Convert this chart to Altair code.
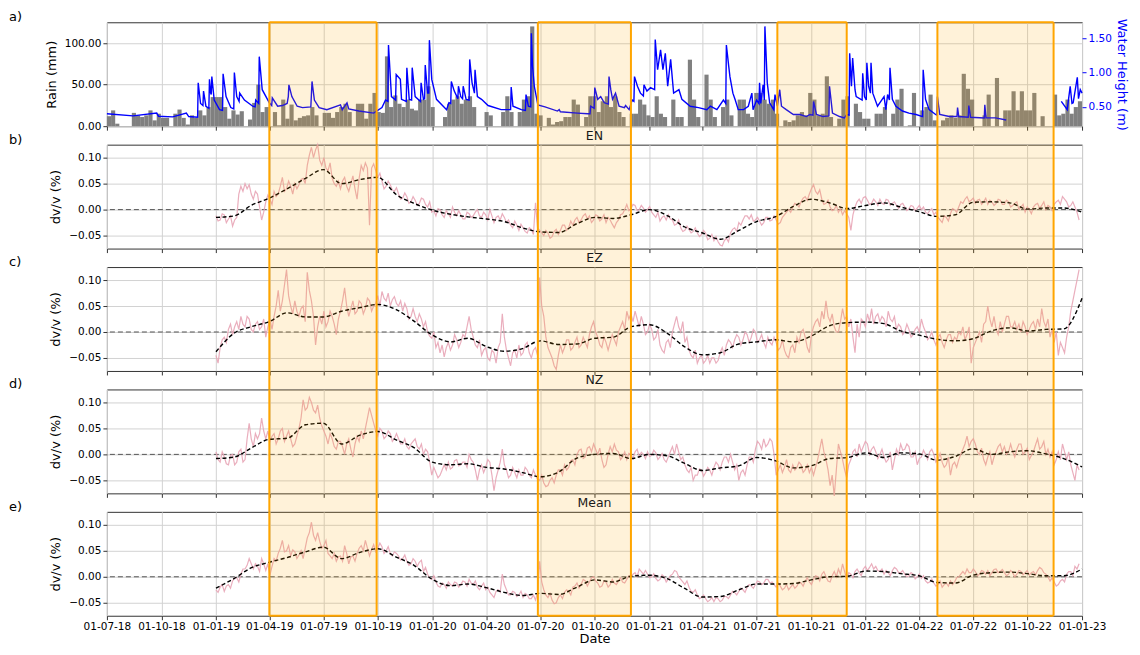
import altair as alt
import pandas as pd

# ------------------------------------------------------------------ data
# weekly rain (mm), weeks starting 2018-07-01
rain_mm = [
    12, 19, 3, 0, 0, 0, 16, 13, 11, 13, 19, 7, 15, 10, 10, 0, 15, 20, 10, 2,
    13, 10, 19, 13, 23, 35, 35, 35, 23, 9, 19, 14, 18, 0, 8, 28, 50, 17, 23,
    0, 17, 1, 32, 9, 26, 7, 10, 12, 13, 23, 13, 0, 16, 16, 10, 17, 23, 27, 17,
    0, 27, 27, 9, 27, 40,
    17, 16, 84, 23, 37,
    27, 23, 32, 21, 19, 32, 32, 48, 23, 0, 0, 11, 27, 32, 36, 27, 32, 36, 23, 0,
    0, 17, 13, 0, 0, 17, 36, 17, 0, 17, 32, 36, 120, 15, 13, 0, 10, 2, 5, 6,
    11, 11, 32, 26, 0, 11, 36, 36, 17, 30, 36, 23, 36, 17, 11, 0, 15, 15, 32, 26,
    13, 11, 36, 15, 11, 0, 32, 11, 11, 0, 80, 32, 11, 0, 62, 32, 11, 0, 23, 32,
    13, 0, 32, 32, 15, 11, 40, 40, 32, 27, 32,
    15, 0, 7, 5, 7, 13, 17, 13, 40, 32, 13, 15, 60, 11, 0, 9, 32, 36, 0, 27,
    17, 9, 9, 0, 15, 15, 23, 0, 15, 32, 45, 0, 1, 40, 0, 19, 23, 38, 7, 0,
    7, 10, 13, 10, 13, 63, 45, 32, 0, 0, 13, 38, 0, 58, 0, 19, 19, 42, 19, 42,
    19, 19, 40, 0, 12, 0, 0, 38, 13, 15, 32, 15, 23, 30,
]

# water height (m): day since 2018-07-01 and value
water_day = [
    0, 44, 84, 87, 111, 134, 138, 153, 154, 158, 162, 163, 167, 172, 173, 175, 176, 177, 181, 190,
    195, 196, 201, 209, 214, 215, 219, 223, 224, 232, 246, 250, 251, 256, 257, 262, 274, 278, 279, 288,
    296, 304, 306, 307, 312, 321, 330, 344, 346, 350, 358, 371, 394, 397, 405, 408, 425, 450, 464, 470,
    474, 475, 480, 487, 488, 495, 497, 505, 506, 510, 514, 515, 520, 529, 530, 534, 536, 537, 541, 543,
    544, 548, 556, 573, 577, 580, 581, 586, 592, 593, 597, 600, 601, 606, 611, 612, 616, 620, 621, 625,
    632, 643, 665, 681, 682, 685, 699, 706, 707, 711, 715, 716, 718, 721, 727, 739, 760, 763, 765, 794,
    811, 815, 816, 822, 823, 828, 833, 839, 846, 847, 850, 853, 858, 864, 873, 875, 881, 886, 889, 890,
    895, 900, 905, 906, 911, 917, 924, 925, 929, 934, 938, 942, 946, 951, 956, 965, 970, 984, 998, 1012,
    1018, 1029, 1040, 1044, 1045, 1049, 1051, 1056, 1060, 1065, 1074, 1082, 1088, 1090, 1096, 1100, 1101, 1103, 1107, 1109,
    1110, 1114, 1118, 1125, 1127, 1131, 1135, 1138, 1146, 1158, 1169, 1180, 1186, 1191, 1192, 1197, 1208, 1218, 1219, 1224,
    1236, 1244, 1248, 1252, 1253, 1256, 1258, 1262, 1264, 1274, 1275, 1278, 1281, 1282, 1285, 1288, 1289, 1292, 1300, 1311,
    1314, 1317, 1320, 1321, 1325, 1331, 1342, 1353, 1365, 1376, 1377, 1381, 1387, 1398, 1400, 1401, 1405, 1421, 1434, 1435,
    1437, 1453, 1454, 1457, 1480, 1481, 1483, 1499, 1517,
    1610, 1620, 1625, 1628, 1630, 1637, 1639, 1642, 1645,
]
water_m = [
    0.40, 0.37, 0.41, 0.365, 0.355, 0.41, 0.36, 0.35, 0.85, 0.55, 0.52, 0.73, 0.51, 0.48, 0.90, 0.70, 0.68, 0.94, 0.60, 0.46,
    0.45, 0.98, 0.65, 0.49, 0.47, 1.00, 0.65, 0.58, 0.70, 0.60, 0.51, 0.50, 0.60, 0.55, 1.23, 0.75, 0.56, 0.52, 0.63, 0.51,
    0.52, 0.55, 0.65, 0.82, 0.65, 0.51, 0.49, 0.50, 0.87, 0.60, 0.49, 0.46, 0.53, 0.46, 0.56, 0.47, 0.44, 0.41, 0.49, 0.60,
    0.58, 1.40, 0.65, 0.60, 0.97, 0.90, 0.61, 0.58, 1.07, 0.61, 0.60, 1.07, 0.65, 0.58, 0.85, 0.61, 0.62, 1.11, 0.70, 0.70,
    1.47, 0.90, 0.61, 0.46, 0.56, 0.55, 0.87, 0.73, 0.62, 0.80, 0.65, 0.62, 0.80, 0.61, 0.60, 1.19, 0.85, 0.70, 1.04, 0.65,
    0.61, 0.52, 0.46, 0.46, 0.79, 0.51, 0.46, 0.45, 0.68, 0.51, 0.50, 1.57, 1.09, 0.80, 0.53, 0.50, 0.44, 0.46, 0.43, 0.41,
    0.40, 0.40, 0.51, 0.48, 0.78, 0.61, 0.65, 0.56, 0.54, 0.94, 0.75, 0.61, 0.70, 0.51, 0.49, 0.52, 0.46, 0.60, 0.58, 0.94,
    0.80, 0.70, 0.66, 0.82, 0.73, 0.78, 0.75, 1.48, 1.04, 1.33, 1.04, 1.28, 0.80, 1.19, 0.70, 0.75, 0.61, 0.51, 0.49, 0.46,
    0.51, 0.46, 0.60, 0.55, 1.40, 1.09, 0.94, 0.70, 0.60, 0.46, 0.46, 0.51, 0.70, 0.46, 0.60, 0.55, 0.85, 0.55, 0.82, 0.60,
    1.67, 0.85, 0.56, 0.46, 0.68, 0.51, 0.75, 0.51, 0.46, 0.39, 0.39, 0.36, 0.39, 0.38, 0.58, 0.39, 0.36, 0.37, 0.80, 0.41,
    0.36, 0.34, 0.39, 0.38, 1.28, 0.80, 1.21, 0.75, 0.65, 0.60, 0.99, 0.65, 0.60, 1.14, 0.80, 0.70, 1.14, 0.70, 0.51, 0.65,
    0.46, 0.68, 0.60, 1.07, 0.61, 0.51, 0.44, 0.41, 0.39, 0.36, 1.04, 0.61, 0.46, 0.39, 0.38, 0.65, 0.39, 0.36, 0.36, 0.49,
    0.36, 0.35, 0.52, 0.35, 0.34, 0.53, 0.34, 0.34, 0.31,
    0.58, 0.46, 0.80, 0.55, 0.56, 0.93, 0.62, 0.75, 0.70,
]
water_gap_after_day = 1517

# dv/v (%) read at each week start from 2019-01-01 ("raw") and half a week later ("mid")
en_raw = [
    -0.012, -0.020, -0.010, -0.018, -0.032, -0.015, 0.045, 0.050, 0.048, 0.020,
    0.030, -0.020, 0.015, 0.020, 0.035, 0.030, 0.062, 0.040, 0.045, 0.050,
    0.048, 0.060, 0.085, 0.120, 0.115, 0.095, 0.100, 0.075, 0.060, 0.045,
    0.040, 0.062, 0.035, 0.065, 0.020, 0.085, 0.090, -0.030, 0.088, 0.062,
    0.055, 0.045, 0.048, 0.035, 0.030, 0.022, 0.025, 0.015, 0.018, 0.012,
    0.020, 0.005, -0.005, -0.012, 0.000, -0.015, -0.008, 0.005, -0.012, -0.010,
    -0.018, -0.008, -0.012, 0.000, -0.015, -0.010, 0.000, -0.025, -0.012, -0.008,
    -0.025, -0.030, -0.022, -0.040, -0.035, -0.045, -0.038, 0.013, -0.040, -0.050,
    -0.045, -0.052, -0.038, -0.040, -0.030, -0.035, -0.030, -0.015, -0.020, -0.008,
    -0.012, -0.020, -0.012, -0.018, -0.025, -0.020, -0.035, -0.020, -0.008, 0.010,
    0.002, 0.008, 0.000, 0.003, 0.000, -0.005, -0.015, -0.022, -0.012, -0.010,
    -0.020, -0.028, -0.035, -0.040, -0.038, -0.042, -0.045, -0.048, -0.045, -0.055,
    -0.060, -0.062, -0.070, -0.055, -0.045, -0.035, -0.025, -0.020, -0.012, -0.010,
    -0.020, -0.022, -0.025, -0.015, -0.020, -0.020, -0.025, -0.010, 0.000, 0.005,
    0.010, 0.015, 0.025, 0.030, 0.048, 0.030, 0.020, 0.012, 0.005, 0.000,
    -0.005, -0.010, -0.008, -0.040, 0.005, 0.020, 0.023, 0.018, 0.012, 0.015,
    0.020, 0.010, 0.018, 0.012, 0.008, 0.010, 0.005, 0.002, 0.006, 0.003,
    0.000, -0.005, -0.002, -0.010, -0.015, -0.025, -0.015, -0.008, 0.000, 0.005,
    0.012, 0.025, 0.018, 0.012, 0.020, 0.015, 0.010, 0.015, 0.012, 0.018,
    0.010, 0.015, 0.008, 0.015, 0.005, -0.005, 0.000, 0.005, 0.012, 0.008,
    0.000, 0.005, 0.010, 0.018, 0.025, 0.015, 0.008, 0.005, -0.020,
]
en_mid = [
    -0.022, -0.008, -0.025, -0.012, -0.020, 0.030, 0.035, 0.040, 0.030, 0.035,
    0.005, -0.005, 0.028, 0.010, 0.025, 0.045, 0.035, 0.055, 0.030, 0.040,
    0.058, 0.050, 0.105, 0.100, 0.125, 0.085, 0.080, 0.090, 0.050, 0.055,
    0.055, 0.045, 0.050, 0.040, 0.060, 0.075, 0.080, 0.080, 0.075, 0.070,
    0.040, 0.055, 0.038, 0.042, 0.020, 0.032, 0.012, 0.025, 0.008, 0.022,
    0.010, 0.015, -0.002, 0.002, -0.010, -0.002, -0.015, -0.005, -0.002, -0.018,
    -0.005, -0.015, -0.005, -0.012, -0.005, -0.020, -0.012, -0.015, -0.020, -0.015,
    -0.020, -0.035, -0.030, -0.028, -0.042, -0.035, -0.048, -0.035, -0.045, -0.040,
    -0.055, -0.042, -0.048, -0.030, -0.040, -0.022, -0.020, -0.025, -0.012, -0.018,
    -0.025, -0.010, -0.022, -0.010, -0.015, -0.028, -0.025, -0.010, 0.000, -0.002,
    0.010, -0.002, 0.008, -0.005, 0.006, -0.010, -0.005, -0.015, -0.020, -0.018,
    -0.030, -0.020, -0.042, -0.032, -0.045, -0.035, -0.052, -0.040, -0.058, -0.048,
    -0.052, -0.068, -0.060, -0.062, -0.038, -0.042, -0.030, -0.012, -0.018, -0.022,
    -0.015, -0.030, -0.015, -0.022, -0.012, -0.028, -0.015, -0.005, -0.005, 0.012,
    0.005, 0.022, 0.018, 0.040, 0.035, 0.038, 0.010, 0.018, -0.002, 0.008,
    0.002, -0.002, -0.015, -0.010, 0.015, 0.012, 0.025, 0.010, 0.020, 0.008,
    0.012, 0.020, 0.008, 0.015, 0.002, 0.012, -0.002, 0.008, -0.002, 0.008,
    0.005, -0.008, 0.002, -0.005, -0.020, -0.012, -0.022, 0.002, -0.005, 0.015,
    0.020, 0.015, 0.022, 0.018, 0.010, 0.022, 0.018, 0.008, 0.020, 0.010,
    0.018, 0.005, 0.012, 0.000, 0.010, 0.005, -0.008, 0.010, 0.002, 0.015,
    0.008, -0.002, 0.015, 0.010, 0.020, 0.005, 0.015, -0.005,
]
ez_raw = [
    -0.045, -0.030, -0.010, 0.005, -0.005, 0.020, 0.030, 0.010, 0.025, 0.000,
    0.020, 0.010, -0.010, 0.025, 0.030, 0.080, 0.060, 0.120, 0.050, 0.060,
    0.030, 0.050, 0.115, 0.060, -0.025, 0.030, 0.040, 0.020, 0.030, -0.005,
    0.040, 0.085, 0.030, 0.060, 0.040, 0.055, 0.045, 0.060, 0.050, 0.070,
    0.078, 0.060, 0.050, 0.068, 0.050, 0.040, 0.045, 0.030, 0.030, 0.035,
    0.010, 0.000, -0.012, -0.030, -0.040, -0.048, -0.020, -0.025, -0.015, -0.020,
    -0.010, 0.030, -0.010, -0.030, -0.045, -0.030, -0.055, -0.040, -0.030, 0.035,
    -0.035, -0.065, -0.035, -0.025, -0.040, -0.020, -0.050, -0.030, 0.105, 0.030,
    -0.030, -0.050, -0.072, -0.025, -0.030, -0.015, -0.030, -0.010, -0.025, -0.020,
    -0.005, 0.020, -0.010, -0.030, -0.020, -0.020, -0.015, 0.000, 0.020, 0.040,
    0.035, 0.040, 0.010, 0.015, 0.000, 0.005, -0.010, -0.025, -0.040, -0.015,
    0.000, 0.030, 0.000, -0.020, -0.035, -0.050, -0.060, -0.045, -0.055, -0.060,
    -0.050, -0.055, -0.030, -0.025, -0.020, -0.015, -0.010, -0.015, -0.005, -0.010,
    0.000, -0.015, -0.020, -0.010, -0.025, -0.020, -0.030, -0.035, -0.050, -0.025,
    -0.010, 0.000, -0.010, -0.040, 0.010, 0.025, 0.040, 0.060, 0.020, 0.010,
    0.000, 0.045, 0.030, 0.025, -0.040, -0.010, 0.020, 0.035, 0.045, 0.030,
    0.020, 0.025, 0.040, 0.020, 0.005, 0.010, 0.000, 0.005, -0.005, 0.010,
    0.025, 0.000, -0.010, -0.015, -0.010, -0.020, -0.015, -0.005, -0.010, 0.000,
    0.010, -0.005, -0.060, -0.020, 0.000, 0.015, 0.050, 0.010, 0.005, 0.020,
    0.015, 0.030, 0.010, 0.005, 0.000, 0.010, 0.005, 0.020, 0.025, 0.045,
    0.010, -0.010, -0.020, -0.045, -0.030, -0.010, 0.040, 0.080, 0.120,
]
ez_mid = [
    -0.060, -0.015, -0.020, 0.015, 0.010, 0.005, 0.015, 0.030, 0.005, 0.015,
    0.005, 0.025, 0.010, 0.005, 0.050, 0.040, 0.090, 0.070, 0.035, 0.040,
    0.045, 0.020, 0.080, 0.030, 0.010, 0.015, 0.010, 0.040, 0.015, 0.025,
    0.060, 0.050, 0.045, 0.035, 0.060, 0.035, 0.065, 0.040, 0.055, 0.050,
    0.065, 0.075, 0.062, 0.055, 0.060, 0.055, 0.025, 0.045, 0.020, 0.025,
    0.020, -0.008, 0.000, -0.020, -0.025, -0.030, -0.035, -0.005, -0.030, -0.005,
    0.010, 0.005, -0.025, -0.015, -0.035, -0.050, -0.035, -0.060, -0.020, -0.010,
    -0.050, -0.040, -0.050, -0.045, -0.025, -0.040, -0.035, -0.045, 0.050, -0.010,
    -0.040, -0.065, -0.045, -0.040, -0.015, -0.035, -0.020, -0.030, -0.010, -0.030,
    0.010, 0.000, -0.025, -0.010, -0.035, -0.005, -0.025, 0.010, 0.005, 0.025,
    0.020, 0.025, 0.030, -0.005, 0.015, -0.015, 0.005, -0.035, -0.020, -0.030,
    0.015, 0.010, 0.020, -0.010, -0.045, -0.035, -0.050, -0.060, -0.045, -0.050,
    -0.060, -0.040, -0.045, -0.015, -0.030, -0.005, -0.025, 0.000, -0.020, 0.005,
    -0.020, -0.005, -0.030, -0.020, -0.010, -0.035, -0.015, -0.045, -0.030, -0.040,
    -0.020, 0.005, -0.030, -0.005, 0.020, 0.010, 0.025, 0.030, 0.035, 0.000,
    0.020, 0.025, 0.010, -0.010, 0.015, 0.025, 0.010, 0.020, 0.015, 0.035,
    0.030, 0.010, 0.025, 0.030, 0.015, -0.005, 0.015, -0.010, 0.005, 0.000,
    0.010, -0.015, 0.000, -0.025, -0.005, -0.030, -0.005, -0.020, -0.015, -0.005,
    -0.015, 0.010, -0.030, -0.010, -0.020, 0.020, 0.025, 0.030, -0.005, 0.000,
    0.030, 0.010, 0.020, 0.015, 0.020, -0.005, 0.015, 0.005, 0.010, 0.020,
    0.025, 0.005, 0.000, -0.020, -0.040, 0.010, 0.060, 0.100,
]
nz_raw = [
    0.005, -0.015, -0.005, -0.020, 0.000, -0.015, 0.010, -0.010, 0.060, 0.015,
    0.030, 0.070, 0.030, 0.025, 0.040, 0.030, 0.050, 0.035, 0.030, 0.020,
    0.050, 0.105, 0.090, 0.100, 0.080, 0.070, 0.045, 0.020, 0.030, 0.010,
    0.025, 0.000, 0.030, -0.005, 0.035, 0.045, 0.050, 0.090, 0.060, 0.035,
    0.045, 0.035, 0.040, 0.030, 0.030, 0.020, 0.015, 0.020, 0.030, 0.010,
    0.000, 0.005, -0.040, -0.035, -0.040, -0.020, -0.015, -0.025, -0.010, -0.020,
    -0.015, 0.000, -0.015, -0.050, -0.020, -0.025, -0.015, -0.070, -0.030, 0.010,
    -0.030, -0.040, -0.035, -0.030, -0.040, -0.030, -0.045, -0.040, -0.050, -0.055,
    -0.060, -0.045, -0.040, -0.030, -0.020, -0.025, -0.010, 0.000, 0.010, -0.005,
    0.015, 0.020, 0.000, -0.010, -0.020, 0.015, 0.020, 0.005, -0.005, -0.010,
    0.000, 0.005, -0.005, 0.000, 0.005, -0.002, 0.003, -0.005, -0.010, -0.005,
    0.015, 0.020, -0.010, -0.020, -0.035, -0.050, -0.040, -0.030, -0.035, -0.030,
    -0.025, -0.020, -0.015, -0.005, 0.000, -0.030, -0.050, -0.030, -0.020, -0.005,
    0.010, 0.020, 0.030, 0.020, 0.025, -0.040, -0.020, -0.025, -0.030, -0.020,
    -0.025, -0.020, -0.030, -0.035, -0.040, -0.010, 0.030, -0.010, -0.060, -0.080,
    0.020, -0.010, -0.045, -0.010, 0.010, 0.020, 0.015, 0.020, 0.010, 0.005,
    0.000, -0.005, -0.010, -0.030, 0.010, 0.020, 0.010, 0.015, -0.005, -0.020,
    -0.005, 0.000, 0.005, 0.000, -0.010, -0.015, -0.020, -0.040, -0.015, -0.010,
    0.010, 0.035, 0.025, 0.020, 0.000, -0.010, -0.005, -0.020, 0.005, 0.020,
    0.015, 0.005, 0.005, 0.010, 0.020, 0.005, -0.010, 0.005, 0.030, 0.015,
    0.000, -0.005, -0.020, 0.005, 0.020, -0.010, -0.020, -0.050, -0.030,
]
nz_mid = [
    -0.010, 0.005, -0.018, -0.002, -0.020, 0.005, -0.015, 0.030, 0.030, 0.040,
    0.040, 0.045, 0.045, 0.035, 0.020, 0.045, 0.025, 0.045, 0.015, 0.035,
    0.070, 0.085, 0.110, 0.085, 0.095, 0.055, 0.035, 0.040, 0.015, 0.025,
    0.015, 0.020, 0.010, 0.020, 0.025, 0.030, 0.070, 0.075, 0.045, 0.050,
    0.030, 0.045, 0.025, 0.040, 0.020, 0.030, 0.010, 0.025, 0.015, 0.020,
    0.010, -0.015, -0.025, -0.045, -0.030, -0.030, -0.028, -0.012, -0.022, -0.015,
    -0.025, -0.010, -0.030, -0.030, -0.035, -0.010, -0.040, -0.045, -0.015, -0.020,
    -0.045, -0.025, -0.045, -0.040, -0.025, -0.040, -0.030, -0.048, -0.040, -0.062,
    -0.050, -0.055, -0.030, -0.040, -0.030, -0.012, -0.020, 0.008, -0.008, 0.012,
    0.005, 0.010, 0.012, -0.025, 0.000, 0.005, 0.008, -0.010, 0.005, 0.002,
    -0.008, 0.010, 0.004, -0.008, -0.004, 0.008, -0.010, 0.002, -0.015, 0.005,
    0.000, 0.005, -0.005, -0.030, -0.025, -0.040, -0.028, -0.042, -0.025, -0.040,
    -0.015, -0.030, -0.005, -0.015, -0.015, -0.020, -0.035, -0.040, -0.005, -0.015,
    0.025, 0.010, 0.015, 0.030, 0.000, -0.030, -0.035, -0.010, -0.035, -0.030,
    -0.015, -0.035, -0.020, -0.025, -0.025, 0.010, 0.005, -0.030, -0.040, -0.030,
    0.005, -0.030, -0.020, 0.005, -0.005, 0.005, 0.025, 0.000, 0.015, -0.008,
    0.010, -0.015, 0.005, -0.010, 0.000, 0.008, 0.020, -0.005, 0.005, -0.008,
    0.008, -0.010, 0.010, -0.015, 0.002, -0.025, -0.005, -0.020, -0.025, 0.000,
    0.020, 0.015, 0.030, 0.005, 0.012, -0.020, 0.005, -0.005, 0.015, 0.005,
    0.000, 0.020, -0.005, 0.020, 0.000, 0.012, -0.002, 0.018, 0.010, 0.025,
    0.010, 0.005, -0.010, -0.010, 0.005, 0.005, -0.035, -0.020,
]
mean_raw = [
    -0.025, -0.020, -0.028, -0.015, -0.008, -0.002, 0.005, 0.015, 0.035, 0.015,
    0.020, 0.035, 0.012, 0.003, 0.035, 0.045, 0.070, 0.050, 0.040, 0.048,
    0.042, 0.035, 0.075, 0.105, 0.070, 0.068, 0.060, 0.045, 0.035, 0.030,
    0.040, 0.060, 0.025, 0.040, 0.045, 0.060, 0.070, 0.040, 0.062, 0.055,
    0.058, 0.050, 0.045, 0.048, 0.040, 0.035, 0.030, 0.025, 0.030, 0.028,
    0.010, 0.005, -0.005, -0.010, -0.020, -0.015, -0.010, -0.018, -0.012, -0.015,
    -0.010, -0.005, -0.015, -0.020, -0.018, -0.025, -0.030, -0.040, -0.025, 0.005,
    -0.025, -0.035, -0.030, -0.035, -0.040, -0.035, -0.042, -0.045, 0.030, -0.025,
    -0.040, -0.045, -0.050, -0.035, -0.030, -0.028, -0.020, -0.012, -0.015, -0.008,
    -0.010, 0.000, -0.012, -0.018, -0.010, -0.015, -0.012, -0.008, -0.010, -0.005,
    0.000, 0.008, 0.015, 0.005, 0.005, 0.000, -0.003, -0.005, 0.000, -0.005,
    0.005, 0.010, -0.005, -0.015, -0.020, -0.030, -0.035, -0.040, -0.042, -0.045,
    -0.048, -0.042, -0.045, -0.038, -0.035, -0.030, -0.028, -0.025, -0.020, -0.018,
    -0.015, -0.010, -0.012, -0.005, -0.010, -0.020, -0.018, -0.022, -0.025, -0.015,
    -0.018, -0.012, -0.008, -0.010, -0.005, 0.000, 0.005, 0.000, -0.010, 0.010,
    0.015, 0.025, -0.005, 0.005, 0.010, 0.008, 0.015, 0.012, 0.025, 0.020,
    0.010, 0.005, 0.008, 0.012, 0.015, 0.008, 0.005, 0.002, 0.005, 0.000,
    -0.003, -0.008, -0.010, -0.012, -0.015, -0.020, -0.012, -0.008, -0.010, 0.000,
    0.010, 0.015, 0.008, 0.010, 0.005, 0.010, 0.012, 0.008, 0.015, 0.010,
    0.008, 0.005, 0.008, 0.005, 0.010, 0.008, 0.003, 0.010, 0.012, 0.015,
    0.005, -0.008, -0.010, -0.015, -0.005, 0.005, 0.010, 0.020, 0.025,
]
mean_mid = [
    -0.030, -0.015, -0.018, -0.022, -0.002, -0.010, 0.015, 0.022, 0.025, 0.025,
    0.010, 0.025, 0.025, 0.020, 0.030, 0.055, 0.048, 0.060, 0.052, 0.035,
    0.050, 0.055, 0.085, 0.080, 0.085, 0.055, 0.070, 0.040, 0.045, 0.038,
    0.030, 0.045, 0.038, 0.030, 0.055, 0.050, 0.055, 0.052, 0.048, 0.065,
    0.045, 0.058, 0.040, 0.045, 0.032, 0.042, 0.022, 0.035, 0.020, 0.032,
    0.018, -0.002, 0.002, -0.018, -0.012, -0.022, -0.015, -0.010, -0.020, -0.008,
    -0.018, -0.012, -0.008, -0.025, -0.012, -0.020, -0.035, -0.028, -0.030, -0.015,
    -0.035, -0.028, -0.038, -0.028, -0.032, -0.042, -0.035, -0.030, -0.010, -0.035,
    -0.032, -0.052, -0.040, -0.042, -0.025, -0.035, -0.018, -0.022, -0.005, -0.018,
    -0.002, -0.008, -0.020, -0.008, -0.020, -0.005, -0.015, -0.002, -0.012, 0.002,
    0.005, 0.000, 0.010, 0.012, -0.002, 0.006, -0.008, 0.004, -0.010, 0.002,
    0.012, 0.000, -0.010, -0.008, -0.028, -0.025, -0.042, -0.035, -0.048, -0.040,
    -0.040, -0.048, -0.038, -0.042, -0.028, -0.035, -0.022, -0.030, -0.015, -0.022,
    -0.008, -0.015, -0.005, -0.012, -0.015, -0.012, -0.025, -0.015, -0.020, -0.022,
    -0.010, -0.018, -0.002, -0.015, 0.002, -0.008, 0.010, -0.008, 0.002, 0.000,
    0.005, 0.010, 0.008, -0.002, 0.015, 0.002, 0.020, 0.018, 0.015, 0.012,
    0.015, 0.012, 0.002, 0.018, 0.008, 0.012, 0.000, 0.008, -0.004, 0.005,
    0.002, -0.012, -0.004, -0.018, -0.008, -0.015, -0.018, -0.015, -0.002, 0.005,
    0.005, 0.008, 0.015, 0.002, 0.012, 0.005, 0.002, 0.014, 0.008, 0.014,
    0.002, 0.012, 0.000, 0.012, 0.004, 0.012, 0.008, 0.004, 0.018, 0.008,
    0.000, -0.002, -0.018, -0.008, -0.010, 0.010, 0.002, 0.015,
]

# smoothed dv/v, monthly from 2019-01-01 to 2023-01-01
en_smooth = [
    -0.015, -0.012, 0.008, 0.022, 0.040, 0.060, 0.077, 0.050, 0.058, 0.062, 0.029, 0.012,
    -0.001, -0.009, -0.014, -0.018, -0.023, -0.035, -0.043, -0.044, -0.027, -0.015, -0.017, -0.010,
    0.000, -0.012, -0.033, -0.045, -0.057, -0.040, -0.023, -0.014, 0.006, 0.020, 0.013, 0.002,
    0.008, 0.013, 0.005, -0.004, -0.013, -0.010, 0.014, 0.015, 0.013, 0.001, 0.003, 0.003, -0.005,
]
ez_smooth = [
    -0.038, -0.002, 0.010, 0.020, 0.037, 0.029, 0.029, 0.040, 0.047, 0.053, 0.043, 0.021,
    -0.006, -0.019, -0.012, -0.028, -0.037, -0.032, -0.017, -0.024, -0.023, -0.012, -0.010, 0.010,
    0.014, -0.003, -0.028, -0.044, -0.040, -0.023, -0.019, -0.015, -0.019, -0.008, 0.012, 0.018,
    0.019, 0.016, 0.002, -0.006, -0.014, -0.017, -0.013, 0.002, 0.008, 0.002, 0.005, 0.006, 0.065,
]
nz_smooth = [
    -0.008, -0.005, 0.012, 0.029, 0.031, 0.057, 0.060, 0.020, 0.037, 0.044, 0.028, 0.013,
    -0.015, -0.020, -0.018, -0.025, -0.028, -0.035, -0.043, -0.034, -0.007, 0.000, 0.002, -0.008,
    0.000, -0.003, -0.017, -0.031, -0.026, -0.022, -0.006, -0.012, -0.026, -0.022, -0.008, -0.006,
    0.003, -0.006, 0.003, 0.001, -0.011, -0.004, 0.011, 0.000, 0.005, 0.007, 0.001, -0.008, -0.024,
]
mean_smooth = [
    -0.022, -0.003, 0.017, 0.028, 0.037, 0.048, 0.057, 0.035, 0.047, 0.054, 0.038, 0.022,
    -0.005, -0.017, -0.014, -0.021, -0.030, -0.036, -0.032, -0.034, -0.020, -0.006, -0.010, 0.001,
    0.003, -0.004, -0.022, -0.039, -0.038, -0.025, -0.014, -0.014, -0.013, -0.006, 0.000, 0.001,
    0.011, 0.010, 0.006, 0.002, -0.011, -0.012, 0.003, 0.008, 0.009, 0.006, 0.002, 0.002, 0.015,
]

# highlighted periods
box_start = ["2019-04-01", "2020-06-27", "2021-08-05", "2022-05-02"]
box_end = ["2019-09-29", "2020-12-01", "2021-11-30", "2022-11-14"]

x_ticks = [(2018, 7), (2018, 10)] + [(y, m) for y in range(2019, 2023) for m in (1, 4, 7, 10)] + [(2023, 1)]

# ------------------------------------------------------------------ tables
T0 = pd.Timestamp("2018-07-01")
fmt = "%Y-%m-%d"
tfmt = "%Y-%m-%dT%H:%M:%SZ"
rain_df = pd.DataFrame({
    "date": [(T0 + pd.Timedelta(days=7 * i)).strftime(fmt) for i in range(len(rain_mm))],
    "end": [(T0 + pd.Timedelta(days=7 * (i + 1))).strftime(fmt) for i in range(len(rain_mm))],
    "rain": rain_mm,
})
water_df = pd.DataFrame({
    "date": [(T0 + pd.Timedelta(days=d)).strftime(fmt) for d in water_day],
    "height": water_m,
    "seg": [0 if d <= water_gap_after_day else 1 for d in water_day],
})
box_df = pd.DataFrame({"start": box_start, "end": box_end})
edge_df = pd.DataFrame({"date": box_start + box_end})
one_df = pd.DataFrame({"k": [0]})


def noisy(raw, mid):
    t1 = pd.Timestamp("2019-01-01")
    rows = []
    for k, v in enumerate(raw):
        rows.append(((t1 + pd.Timedelta(days=7 * k)).strftime(tfmt), v))
        if k < len(mid):
            rows.append(((t1 + pd.Timedelta(hours=168 * k + 84)).strftime(tfmt), mid[k]))
    return pd.DataFrame(rows, columns=["date", "value"])


def monthly(vals):
    return pd.DataFrame({
        "date": pd.date_range("2019-01-01", periods=len(vals), freq="MS").strftime(fmt),
        "value": vals,
    })


# ------------------------------------------------------------------ styling
W, H, GAP = 976, 104, 18.5
FONT = "DejaVu Sans"
GRID = "#d2d2d2"
ORANGE = "#FFA500"

XSCALE = alt.Scale(
    type="utc",
    domain=[alt.DateTime(year=2018, month=7, date=1, utc=True),
            alt.DateTime(year=2023, month=1, date=1, utc=True)],
    nice=False,
)
TICKS = [alt.DateTime(year=y, month=m, date=1, utc=True) for y, m in x_ticks]


def x_axis(labels):
    return alt.Axis(
        values=TICKS, labelExpr="utcFormat(datum.value, '%d-%m-%y')", labels=labels,
        labelOverlap=False, labelFlush=False, labelAngle=0, labelFontSize=10.5,
        labelColor="black", labelPadding=2, ticks=True, tickSize=4, tickColor="#333",
        grid=True, gridColor=GRID, domain=False,
        titleFontSize=13, titleFontWeight="normal", titleColor="black", titlePadding=0,
    )


def xenc(field, last):
    if last:
        return alt.X(f"{field}:T", scale=XSCALE, axis=x_axis(True), title="Date")
    return alt.X(f"{field}:T", scale=XSCALE, axis=x_axis(False), title=None)


def box_layers(ext_top, ext_bottom, last):
    y2 = H + (0 if last else GAP)
    fill = alt.Chart(box_df).mark_rect(color=ORANGE, opacity=0.15).encode(
        x=xenc("start", last), x2="end:T", y=alt.value(0), y2=alt.value(y2))
    edges = alt.Chart(edge_df).mark_rule(color=ORANGE, strokeWidth=2).encode(
        x=xenc("date", last), y=alt.value(0), y2=alt.value(y2))
    layers = [fill, edges]
    if ext_top:
        layers.append(alt.Chart(box_df).mark_rule(color=ORANGE, strokeWidth=2).encode(
            x=xenc("start", last), x2="end:T", y=alt.value(0)))
    if ext_bottom:
        layers.append(alt.Chart(box_df).mark_rule(color=ORANGE, strokeWidth=2).encode(
            x=xenc("start", last), x2="end:T", y=alt.value(H)))
    return layers


def letter(txt):
    return alt.Chart(one_df).mark_text(
        text=txt, align="left", baseline="middle", fontSize=13, font=FONT, color="black"
    ).encode(x=alt.value(-98), y=alt.value(-5))


def panel_name(txt):
    return alt.Chart(one_df).mark_text(
        text=txt, align="center", baseline="middle", fontSize=12.5, font=FONT, color="#1a1a1a"
    ).encode(x=alt.value(W / 2), y=alt.value(-9))


def y_common(title):
    return dict(labelFontSize=10.5, labelColor="black", tickSize=4, tickColor="#333",
                domain=False, titleFontSize=13, titleFontWeight="normal", titleColor="black",
                title=title)


# ------------------------------------------------------------------ panel a
rain_layer = alt.Chart(rain_df).mark_rect(color="#808080").encode(
    x=xenc("date", False), x2="end:T",
    y=alt.Y("rain:Q", scale=alt.Scale(domain=[0, 125], nice=False),
            axis=alt.Axis(values=[0, 50, 100], format=".2f", grid=True, gridColor=GRID,
                          titlePadding=6, **y_common("Rain (mm)"))),
    y2=alt.datum(0),
)
water_layer = alt.Chart(water_df).mark_line(color="#0000ff", strokeWidth=1.4).encode(
    x=xenc("date", False),
    y=alt.Y("height:Q", scale=alt.Scale(domain=[0.22, 1.73], nice=False, zero=False),
            axis=alt.Axis(orient="right", values=[0.5, 1.0, 1.5], format=".2f", grid=False,
                          labelFontSize=10.5, labelColor="#0000ff", tickColor="#0000ff", tickSize=4,
                          labelPadding=2, domain=False, title="Water Height (m)", titleColor="#0000ff",
                          titleFontSize=13, titleFontWeight="normal", titlePadding=3)),
    detail="seg:N",
)
panel_a = alt.layer(
    rain_layer, water_layer, *box_layers(True, False, False), letter("a)")
).resolve_scale(y="independent").properties(width=W, height=H)


# ------------------------------------------------------------------ dv/v panels
def dvv_panel(name, tag, raw, mid, smooth, last=False):
    yscale = alt.Scale(domain=[-0.075, 0.125], nice=False, zero=False)
    yaxis = alt.Axis(values=[-0.05, 0.0, 0.05, 0.1], format=".2f", grid=True, gridColor=GRID,
                     titlePadding=6, **y_common("dv/v (%)"))
    zero = alt.Chart(one_df).mark_rule(color="#555555", strokeDash=[5, 3], strokeWidth=1).encode(
        y=alt.datum(0, scale=yscale, axis=yaxis))
    pink = alt.Chart(noisy(raw, mid)).mark_line(color="#e8a5b6", strokeWidth=1.2, opacity=0.9).encode(
        x=xenc("date", last), y=alt.Y("value:Q", scale=yscale, axis=yaxis))
    dash = alt.Chart(monthly(smooth)).mark_line(
        color="black", strokeWidth=1.4, strokeDash=[4, 2.5], interpolate="monotone").encode(
        x=xenc("date", last), y=alt.Y("value:Q", scale=yscale, axis=yaxis))
    return alt.layer(
        zero, pink, dash, *box_layers(False, last, last), panel_name(name), letter(tag)
    ).properties(width=W, height=H)


panel_b = dvv_panel("EN", "b)", en_raw, en_mid, en_smooth)
panel_c = dvv_panel("EZ", "c)", ez_raw, ez_mid, ez_smooth)
panel_d = dvv_panel("NZ", "d)", nz_raw, nz_mid, nz_smooth)
panel_e = dvv_panel("Mean", "e)", mean_raw, mean_mid, mean_smooth, last=True)

chart = alt.vconcat(
    panel_a, panel_b, panel_c, panel_d, panel_e, spacing=GAP, bounds="flush"
).properties(
    padding={"left": 0, "top": 2, "right": 4, "bottom": 0}
).configure(font=FONT).configure_view(stroke="#333333", strokeWidth=1)

chart.save("out.html", embed_options={"renderer": "svg", "actions": False})
